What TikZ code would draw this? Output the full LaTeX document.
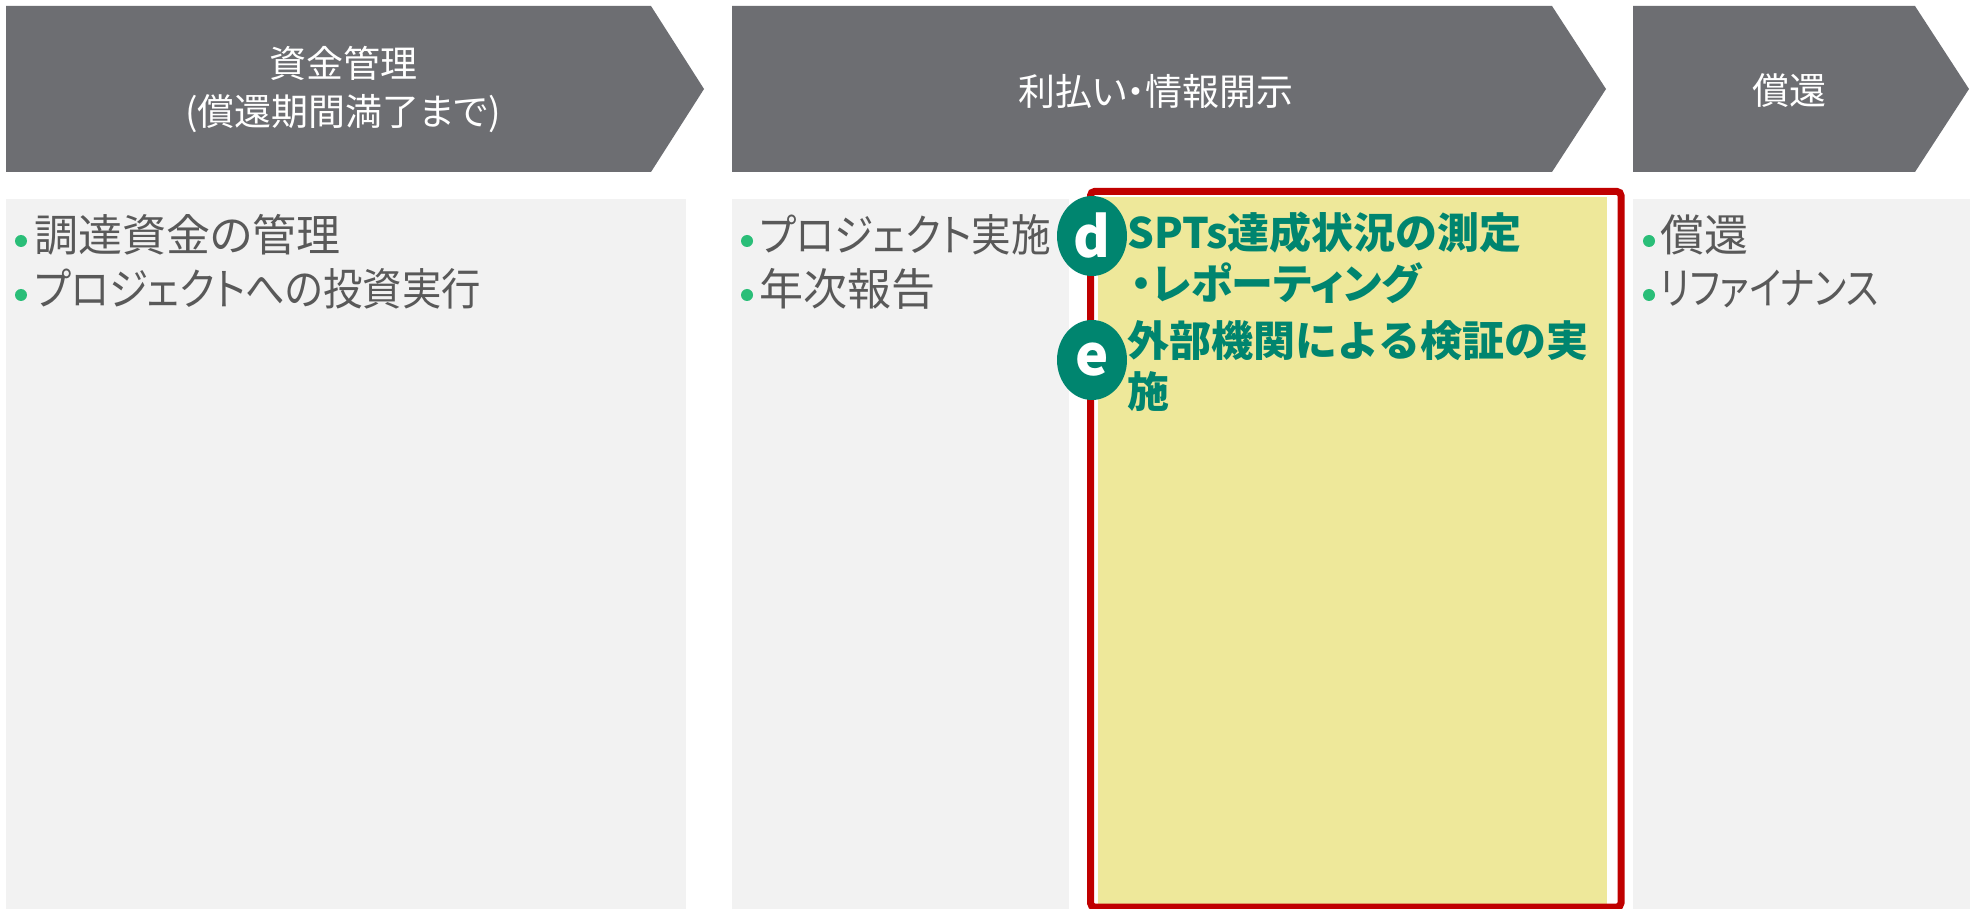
\documentclass[tikz,border=0pt]{standalone}
\usepackage{fontspec}
\usepackage{graphicx}
\usetikzlibrary{shapes.geometric}
\newfontfamily\jp{Noto Sans CJK JP}
\newfontfamily\jpp{Noto Sans CJK JP}[RawFeature=+palt]
\newcommand{\hsq}[2]{\scalebox{#1}[1]{#2}}
\definecolor{arrowgray}{RGB}{109,110,114}
\definecolor{panelgray}{RGB}{242,242,242}
\definecolor{txtgray}{RGB}{89,89,89}
\definecolor{bulgreen}{RGB}{42,190,120}
\definecolor{tealg}{RGB}{0,133,111}
\definecolor{hiyellow}{RGB}{238,232,154}
\definecolor{framered}{RGB}{192,0,0}
\tikzset{
  chevron/.style={fill=arrowgray, draw=none},
  panel/.style={fill=panelgray, draw=none},
  head/.style={text=white, font=\jpp\fontsize{18.5}{22}\selectfont, inner sep=0pt},
  item/.style={anchor=west, text=txtgray, font=\jpp\fontsize{22}{26}\selectfont, inner sep=0pt},
  bul/.style={circle, fill=bulgreen, minimum size=6pt, inner sep=0pt},
  gtext/.style={anchor=west, text=tealg, font=\jp\bfseries\fontsize{21}{25}\selectfont, inner sep=0pt},
  badge/.style={ellipse, fill=tealg, minimum width=35pt, minimum height=40pt, inner sep=0pt, text=white, font=\jp\bfseries\fontsize{28}{30}\selectfont},
}
\begin{document}
\begin{tikzpicture}[x=0.5pt,y=-0.5pt]
\useasboundingbox (0,0) rectangle (1978,909);
\fill[white] (0,0) rectangle (1978,909);
% chevrons
\fill[chevron] (6,6) -- (651,6) -- (704,89) -- (651,172) -- (6,172) -- cycle;
\fill[chevron] (732,6) -- (1552,6) -- (1606,89) -- (1552,172) -- (732,172) -- cycle;
\fill[chevron] (1633,6) -- (1915,6) -- (1969,89) -- (1915,172) -- (1633,172) -- cycle;
\node[head] (h1a) at (343,63) {資金管理};
\node[head] (h1b) at (343,114) {(償還期間満了まで)};
\node[head] (h2) at (1156,91) {利払い・情報開示};
\node[head] (h3) at (1789,91) {償還};
% panels
\fill[panel] (6,199) rectangle (686,909);
\fill[panel] (732,199) rectangle (1069,909);
\fill[panel] (1633,199) rectangle (1970,909);
% highlighted panel
\fill[hiyellow] (1098,197) rectangle (1607,906);
\draw[framered, line width=3.5pt, rounded corners=2pt] (1090.5,191.5) rectangle (1621,907);
% panel 1 items
\node[bul] (b11) at (21,241) {};
\node[item] (t11) at (34,235) {調達資金の管理};
\node[bul] (b12) at (21,295) {};
\node[item] (t12) at (34,289) {\hsq{0.895}{プロジェクトへの投資実行}};
% panel 2 items
\node[bul] (b21) at (747,241) {};
\node[item] (t21) at (759,235) {\hsq{0.9}{プロジェクト実施}};
\node[bul] (b22) at (747,295) {};
\node[item] (t22) at (759,289) {年次報告};
% panel 3 items
\node[bul] (b31) at (1649,241) {};
\node[item] (t31) at (1660,235) {償還};
\node[bul] (b32) at (1649,295) {};
\node[item] (t32) at (1660,289) {\hsq{0.82}{リファイナンス}};
% highlighted content
\node[gtext] (g1) at (1127,233) {SPTs達成状況の測定};
\node[gtext, font=\jpp\bfseries\fontsize{21}{25}\selectfont] (g2) at (1131,283) {・レポーティング};
\node[gtext] (g3) at (1127,341) {外部機関による検証の実};
\node[gtext] (g4) at (1127,392) {施};
\node[badge] (bd) at (1092,236) {d};
\node[badge] (be) at (1092,360) {e};
\end{tikzpicture}
\end{document}
